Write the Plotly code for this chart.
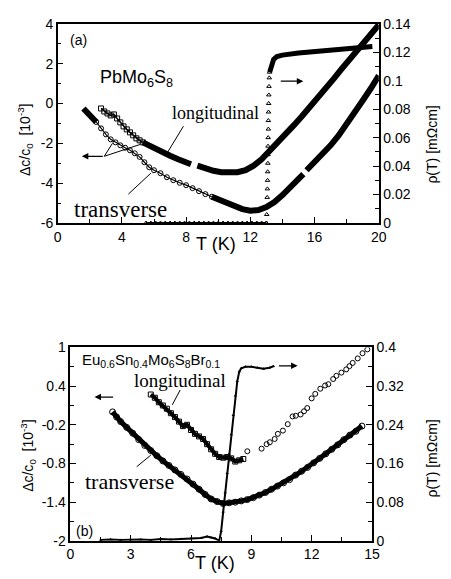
import plotly.graph_objects as go

# ---------------- Panel (a) PbMo6S8 ----------------
# transverse: filled start, open-symbol part, filled part (None = gap)
ta_start_T = [1.6, 1.9, 2.2, 2.4]
ta_start_v = [-0.25, -0.5, -0.75, -0.93]
ta_open_T = [2.4, 2.7, 3.0, 3.3, 3.6, 3.9, 4.2, 4.5, 4.8, 5.1, 5.4, 5.7, 6.0, 6.4, 6.8, 7.2, 7.6, 8.0, 8.4, 8.8, 9.2, 9.6]
ta_open_v = [-0.93, -1.25, -1.55, -1.8, -1.95, -2.1, -2.22, -2.35, -2.5, -2.68, -2.95, -3.2, -3.35, -3.5, -3.7, -3.85, -3.98, -4.1, -4.25, -4.4, -4.55, -4.68]
ta_fill_T = [9.6, 10.0, 10.5, 11.0, 11.5, 12.0, 12.5, 13.0, 13.5, 14.0, 14.5, 15.0, 15.3, None, 15.5, 16.0, 16.5, 17.0, 17.5, 18.0, 18.5, 19.0, 19.5, 20.0]
ta_fill_v = [-4.68, -4.82, -5.0, -5.18, -5.3, -5.38, -5.35, -5.2, -4.95, -4.6, -4.2, -3.8, -3.55, None, -3.35, -2.95, -2.55, -2.1, -1.6, -1.05, -0.45, 0.15, 0.75, 1.4]

# longitudinal: open squares then filled
la_open_T = [2.7, 2.9, 3.1, 3.3, 3.5, 3.7, 3.9, 4.1, 4.3, 4.5, 4.7, 4.9, 5.1, 5.3]
la_open_v = [-0.25, -0.4, -0.5, -0.6, -0.55, -0.75, -0.95, -1.15, -1.3, -1.45, -1.6, -1.75, -1.85, -1.95]
la_fill_T = [5.3, 6.0, 6.5, 7.0, 7.5, 8.0, 8.3, None, 8.7, 9.2, 9.7, 10.2, 10.7, 11.2, 11.7, 12.2, 12.7, 13.2, 13.7, 14.2, 14.7, 15.2, 15.7, 16.2, 16.7, 17.2, 17.7, 18.2, 18.7, 19.2, 19.6, 20.0]
la_fill_v = [-1.95, -2.25, -2.45, -2.62, -2.8, -2.97, -3.05, None, -3.12, -3.28, -3.38, -3.45, -3.48, -3.45, -3.35, -3.12, -2.8, -2.4, -2.0, -1.55, -1.1, -0.65, -0.2, 0.28, 0.75, 1.25, 1.75, 2.25, 2.75, 3.2, 3.6, 3.95]

# resistivity (triangles)
ra_base_T = [5.5, 5.8, 6.1, 6.4, 6.7, 7.0, 7.3, 7.6, 7.9, 8.2, 8.5, 8.8, 9.1, 9.4, 9.7, 10.0, 10.3, 10.6, 10.9, 11.2, 11.5, 11.8, 12.1, 12.4, 12.7, 13.0]
ra_base_r = [0.0] * 26
ra_jump_T = [13.0, 13.02, 13.04, 13.05, 13.06, 13.07, 13.08, 13.09, 13.1, 13.1, 13.11, 13.12, 13.12, 13.13, 13.14, 13.15, 13.16, 13.18, 13.2]
ra_jump_r = [0.0, 0.006, 0.012, 0.018, 0.024, 0.03, 0.036, 0.042, 0.048, 0.054, 0.06, 0.066, 0.072, 0.078, 0.084, 0.09, 0.096, 0.102, 0.106]
ra_top_T = [13.2, 13.3, 13.45, 13.65, 14.0, 15.0, 16.0, 17.0, 18.0, 19.0, 19.6]
ra_top_r = [0.106, 0.111, 0.115, 0.117, 0.118, 0.1195, 0.1205, 0.1215, 0.1225, 0.1235, 0.124]

# ---------------- Panel (b) Eu0.6Sn0.4Mo6S8Br0.1 ----------------
tb_T = [2.1, 2.3, 2.5, 2.8, 3.1, 3.4, 3.7, 4.0, 4.3, 4.6, 4.9, 5.2, 5.5, 5.8, 6.1, 6.4, 6.7, 7.0, 7.3, 7.6, 7.9, 8.2, 8.5, 8.8, 9.1, 9.4, 9.7, 10.0, 10.3, 10.6, 10.9, 11.2, 11.5, 11.8, 12.1, 12.4, 12.7, 13.0, 13.3, 13.6, 13.9, 14.2, 14.5]
tb_v = [0.0, -0.08, -0.15, -0.24, -0.33, -0.43, -0.52, -0.6, -0.68, -0.76, -0.83, -0.9, -0.97, -1.04, -1.12, -1.2, -1.28, -1.35, -1.39, -1.42, -1.41, -1.4, -1.38, -1.36, -1.33, -1.29, -1.25, -1.2, -1.15, -1.1, -1.05, -0.98, -0.92, -0.86, -0.79, -0.72, -0.65, -0.58, -0.51, -0.43, -0.36, -0.3, -0.22]

lb_dense_T = [4.0, 4.2, 4.4, 4.6, 4.8, 5.0, 5.2, 5.4, 5.6, 5.8, 6.0, 6.2, 6.4, 6.6, 6.8, 7.0, 7.2, 7.4, 7.6, 7.8, 8.0, 8.2, 8.4, 8.6]
lb_dense_v = [0.27, 0.22, 0.15, 0.1, 0.05, -0.02, -0.08, -0.15, -0.22, -0.2, -0.28, -0.34, -0.38, -0.42, -0.5, -0.58, -0.65, -0.7, -0.71, -0.7, -0.72, -0.77, -0.75, -0.73]
lb_sparse_T = [8.8, 9.51, 9.76, 9.92, 10.16, 10.32, 10.57, 10.81, 11.05, 11.21, 11.45, 11.62, 11.78, 12.0, 12.18, 12.43, 12.67, 12.83, 13.07, 13.23, 13.48, 13.72, 13.88, 14.04, 14.29, 14.53, 14.77]
lb_sparse_v = [-0.61, -0.57, -0.5, -0.47, -0.42, -0.34, -0.29, -0.19, -0.07, -0.06, -0.04, 0.01, 0.06, 0.21, 0.28, 0.36, 0.41, 0.43, 0.51, 0.56, 0.61, 0.66, 0.71, 0.76, 0.83, 0.91, 0.97]

rb_T = [1.5, 2.0, 2.5, 3.0, 3.5, 4.0, 4.5, 5.0, 5.5, 6.0, 6.5, 6.8, 7.0, 7.2, 7.4, 7.5, 7.6, 7.7, 7.8, 7.9, 8.0, 8.1, 8.2, 8.3, 8.4, 8.5, 8.7, 9.0, 9.3, 9.6, 9.9, 10.1]
rb_r = [0.002, 0.003, 0.002, 0.003, 0.003, 0.002, 0.004, 0.003, 0.004, 0.005, 0.006, 0.009, 0.007, 0.005, 0.0, 0.02, 0.06, 0.1, 0.14, 0.18, 0.22, 0.26, 0.3, 0.33, 0.35, 0.357, 0.36, 0.36, 0.358, 0.356, 0.358, 0.361]

# tick labels
xa_ticks = [0, 4, 8, 12, 16, 20]
ya_ticks = [-6, -4, -2, 0, 2, 4]
ya_text = ["-6", "-4", "-2", "0", "2", "4"]
ra_ticks = [0, 0.02, 0.04, 0.06, 0.08, 0.1, 0.12, 0.14]
ra_text = ["0", "0.02", "0.04", "0.06", "0.08", "0.1", "0.12", "0.14"]
xb_ticks = [0, 3, 6, 9, 12, 15]
yb_ticks = [-2, -1.4, -0.8, -0.2, 0.4, 1]
yb_text = ["-2", "-1.4", "-0.8", "-0.2", "0.4", "1"]
rb_ticks = [0, 0.08, 0.16, 0.24, 0.32, 0.4]
rb_text = ["0", "0.08", "0.16", "0.24", "0.32", "0.4"]

K = "black"
fig = go.Figure()

def thick(x, y, xa, ya, w=6):
    fig.add_trace(go.Scatter(x=x, y=y, xaxis=xa, yaxis=ya, mode="lines",
                             line=dict(color=K, width=w), showlegend=False,
                             connectgaps=False, hoverinfo="skip"))

def opened(x, y, xa, ya, sym="circle-open", size=5, lw=1):
    fig.add_trace(go.Scatter(x=x, y=y, xaxis=xa, yaxis=ya, mode="lines+markers",
                             line=dict(color=K, width=lw),
                             marker=dict(symbol=sym, size=size, color=K, line=dict(width=1, color=K)),
                             showlegend=False, hoverinfo="skip"))

# panel a
thick(ta_start_T, ta_start_v, "x", "y")
opened(ta_open_T, ta_open_v, "x", "y", "circle-open", 5, 1.2)
thick(ta_fill_T, ta_fill_v, "x", "y")
opened(la_open_T, la_open_v, "x", "y", "square-open", 5, 1.5)
thick(la_fill_T, la_fill_v, "x", "y")
opened(ra_base_T, ra_base_r, "x", "y2", "triangle-up-open", 4, 2)
fig.add_trace(go.Scatter(x=ra_jump_T, y=ra_jump_r, xaxis="x", yaxis="y2", mode="markers",
                         marker=dict(symbol="triangle-up-open", size=4, color=K, line=dict(width=1, color=K)),
                         showlegend=False, hoverinfo="skip"))
thick(ra_top_T, ra_top_r, "x", "y2", 5)

# panel b
thick(tb_T, tb_v, "x2", "y3", 5)
fig.add_trace(go.Scatter(x=tb_T, y=tb_v, xaxis="x2", yaxis="y3", mode="markers",
                         marker=dict(symbol="circle-open", size=6, color=K, line=dict(width=1, color=K)),
                         showlegend=False, hoverinfo="skip"))
thick(lb_dense_T, lb_dense_v, "x2", "y3", 4)
fig.add_trace(go.Scatter(x=lb_dense_T, y=lb_dense_v, xaxis="x2", yaxis="y3", mode="markers",
                         marker=dict(symbol="square-open", size=5, color=K, line=dict(width=1, color=K)),
                         showlegend=False, hoverinfo="skip"))
fig.add_trace(go.Scatter(x=lb_sparse_T, y=lb_sparse_v, xaxis="x2", yaxis="y3", mode="markers",
                         marker=dict(symbol="circle-open", size=5, color=K, line=dict(width=1, color=K)),
                         showlegend=False, hoverinfo="skip"))
fig.add_trace(go.Scatter(x=rb_T, y=rb_r, xaxis="x2", yaxis="y4", mode="lines+markers",
                         line=dict(color=K, width=2),
                         marker=dict(symbol="triangle-up", size=3, color=K),
                         showlegend=False, hoverinfo="skip"))

# page body has an 8px default margin: size the figure to fit and map window pixels
O = 8
W, H = 451 - O, 579 - O
def px(x): return (x - O) / W
def py(y): return 1 - (y - O) / H

tickfont = dict(family="Liberation Sans, Arial, sans-serif", size=14, color=K)
common = dict(showgrid=False, zeroline=False, showline=True, linecolor=K, linewidth=1.5,
              ticks="inside", ticklen=6, tickcolor=K, tickwidth=1, tickfont=tickfont)

fig.update_layout(
    width=W, height=H, margin=dict(l=0, r=0, t=0, b=0),
    paper_bgcolor="white", plot_bgcolor="white", showlegend=False,
    xaxis=dict(domain=[px(55), px(385)], range=[0, 20], anchor="y", mirror=True,
               tickvals=xa_ticks, minor=dict(ticks="inside", dtick=2, ticklen=4, tickcolor=K), **common),
    yaxis=dict(domain=[py(221), py(16)], range=[-6, 4], anchor="x",
               tickvals=ya_ticks, ticktext=ya_text,
               minor=dict(ticks="inside", dtick=1, ticklen=4, tickcolor=K), **common),
    yaxis2=dict(range=[0, 0.14], overlaying="y", side="right", anchor="x",
                tickvals=ra_ticks, ticktext=ra_text,
                minor=dict(ticks="inside", dtick=0.01, ticklen=4, tickcolor=K), **common),
    xaxis2=dict(domain=[px(68), px(378)], range=[0, 15], anchor="y3", mirror=True,
                tickvals=xb_ticks, minor=dict(ticks="inside", dtick=1.5, ticklen=4, tickcolor=K), **common),
    yaxis3=dict(domain=[py(548), py(349)], range=[-2, 1], anchor="x2",
                tickvals=yb_ticks, ticktext=yb_text,
                minor=dict(ticks="inside", tick0=-2, dtick=0.3, ticklen=4, tickcolor=K), **common),
    yaxis4=dict(range=[0, 0.4], overlaying="y3", side="right", anchor="x2",
                tickvals=rb_ticks, ticktext=rb_text,
                minor=dict(ticks="inside", dtick=0.04, ticklen=4, tickcolor=K), **common),
)

sans = "Liberation Sans, Arial, sans-serif"
serif = "Liberation Serif, Times New Roman, serif"
ann = []
def text(x, y, s, xr, yr, size, fam=sans, angle=0, xanchor="center"):
    ann.append(dict(x=x, y=y, xref=xr, yref=yr, text=s, showarrow=False, textangle=angle,
                    xanchor=xanchor, yanchor="middle", font=dict(family=fam, size=size, color=K)))
def arrow(x0, y0, x1, y1, xr, yr):
    ann.append(dict(x=x1, y=y1, ax=x0, ay=y0, xref=xr, yref=yr, axref=xr, ayref=yr, text="",
                    showarrow=True, arrowhead=2, arrowsize=1, arrowwidth=1.3, arrowcolor=K))

# axis titles (paper coords)
text(px(22), py(135), "Δc/c<sub>0</sub>  [10<sup>-3</sup>]", "paper", "paper", 14, angle=-90)
text(px(440), py(140), "ρ(T) [mΩcm]", "paper", "paper", 14, angle=-90)
text(px(218), py(243), "T (K)", "paper", "paper", 18)
text(px(25), py(460), "Δc/c<sub>0</sub>  [10<sup>-3</sup>]", "paper", "paper", 14, angle=-90)
text(px(440), py(463), "ρ(T) [mΩcm]", "paper", "paper", 14, angle=-90)
text(px(217), py(571), "T (K)", "paper", "paper", 18)

# panel a labels
text(1.27, 3.17, "(a)", "x", "y", 14)
text(4.9, 1.27, "PbMo<sub>6</sub>S<sub>8</sub>", "x", "y", 18)
text(9.84, -0.49, "longitudinal", "x", "y", 18, serif)
text(3.94, -5.32, "transverse", "x", "y", 23, serif)
arrow(2.9, -2.65, 1.5, -2.65, "x", "y")
arrow(13.8, 0.0997, 15.3, 0.0997, "x", "y2")

# panel b labels
text(0.72, -1.85, "(b)", "x2", "y3", 14)
text(4.0, 0.80, "Eu<sub>0.6</sub>Sn<sub>0.4</sub>Mo<sub>6</sub>S<sub>8</sub>Br<sub>0.1</sub>", "x2", "y3", 15)
text(5.46, 0.49, "longitudinal", "x2", "y3", 19, serif)
text(2.95, -1.08, "transverse", "x2", "y3", 22, serif)
arrow(2.2, 0.23, 1.2, 0.23, "x2", "y3")
arrow(10.3, 0.362, 11.3, 0.362, "x2", "y4")
fig.update_layout(annotations=ann)

def seg(x0, y0, x1, y1, xr, yr):
    fig.add_shape(type="line", x0=x0, y0=y0, x1=x1, y1=y1, xref=xr, yref=yr,
                  line=dict(color=K, width=1))

seg(2.9, -2.65, 3.41, -2.0, "x", "y")
seg(2.9, -2.65, 5.12, -2.06, "x", "y")
seg(7.83, -1.14, 6.73, -2.6, "x", "y")
seg(5.8, -3.5, 4.4, -4.55, "x", "y")
seg(5.46, 0.34, 5.07, 0.11, "x2", "y3")
seg(4.0, -0.67, 3.3, -0.85, "x2", "y3")

fig.write_html("out.html")
